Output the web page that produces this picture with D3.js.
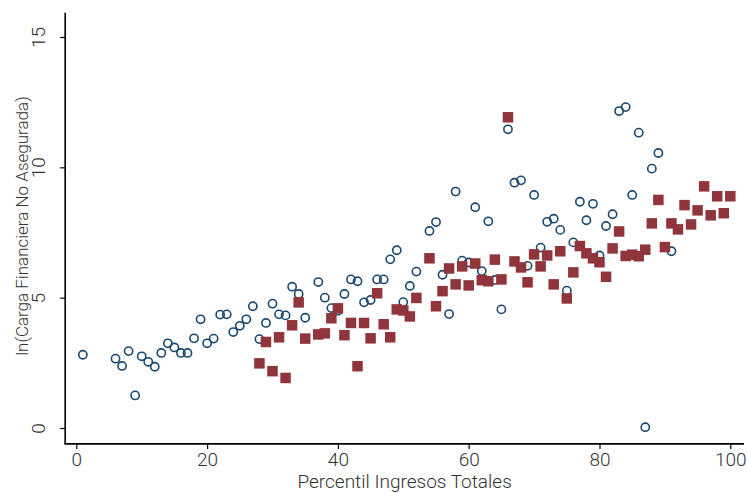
<!DOCTYPE html>
<html><head><meta charset="utf-8">
<script src="https://cdn.jsdelivr.net/npm/d3@7"></script>
<style>
body{margin:0;background:#fff;}
text{font-family:Roboto,"Open Sans",sans-serif;font-weight:300;fill:#333;}
</style></head>
<body><svg id="c" width="747" height="493"></svg>
<script>
const xTicks = [0,20,40,60,80,100];
const yTicks = [0,5,10,15];
const xTitle = "Percentil Ingresos Totales";
const yTitle = "ln(Carga Financiera No Asegurada)";

const circlePct = [1,6,7,8,9,10,11,12,13,14,15,16,17,18,19,20,21,22,23,24,25,26,27,28,29,30,31,32,33,34,35,37,38,39,40,41,42,43,44,45,46,47,48,49,50,51,52,54,55,56,57,58,59,60,61,62,63,64,65,66,67,68,69,70,71,72,73,74,75,76,77,78,79,80,81,82,83,84,85,86,87,88,89,91];
const circleVal = [2.81,2.66,2.38,2.95,1.25,2.75,2.54,2.35,2.88,3.25,3.09,2.88,2.88,3.44,4.17,3.25,3.43,4.35,4.36,3.68,3.92,4.17,4.67,3.41,4.03,4.77,4.36,4.32,5.42,5.14,4.23,5.60,5.00,4.60,4.50,5.14,5.70,5.63,4.82,4.91,5.70,5.70,6.47,6.82,4.83,5.45,6.00,7.56,7.90,5.88,4.37,9.07,6.42,6.35,8.47,6.02,7.93,5.68,4.55,11.46,9.41,9.50,6.22,8.94,6.92,7.91,8.03,7.60,5.27,7.12,8.68,7.97,8.60,6.62,7.75,8.20,12.16,12.31,8.94,11.33,0.03,9.95,10.55,6.78];

const squarePct = [28,29,30,31,32,33,34,35,37,38,39,40,41,42,43,44,45,46,47,48,49,50,51,52,54,55,56,57,58,59,60,61,62,63,64,65,66,67,68,69,70,71,72,73,74,75,76,77,78,79,80,81,82,83,84,85,86,87,88,89,90,91,92,93,94,95,96,97,98,99,100];
const squareVal = [2.48,3.30,2.18,3.48,1.92,3.94,4.82,3.43,3.59,3.63,4.21,4.59,3.56,4.03,2.37,4.03,3.44,5.17,3.98,3.48,4.55,4.51,4.28,4.99,6.51,4.67,5.25,6.12,5.51,6.20,5.47,6.31,5.67,5.63,6.46,5.70,11.92,6.39,6.16,5.59,6.66,6.20,6.62,5.51,6.78,4.97,5.97,6.98,6.70,6.51,6.36,5.80,6.89,7.54,6.60,6.65,6.59,6.84,7.85,8.75,6.94,7.85,7.62,8.55,7.81,8.35,9.27,8.16,8.89,8.24,8.89];

const svg = d3.select("#c");
const x = d3.scaleLinear().domain([0,100]).range([76.3,730.3]);
const y = d3.scaleLinear().domain([0,15]).range([428,37]);
const xMin=-1.7, xMax=102.1, yMin=-0.61, yMax=15.93;

svg.append("line").attr("x1",x(xMin)).attr("x2",x(xMin)).attr("y1",y(yMin)).attr("y2",y(yMax))
  .attr("stroke","#000").attr("stroke-width",1.6);
svg.append("line").attr("x1",x(xMin)-0.8).attr("x2",x(xMax)).attr("y1",y(yMin)).attr("y2",y(yMin))
  .attr("stroke","#000").attr("stroke-width",1.6);

const gx = svg.append("g").attr("transform",`translate(0,${y(yMin)})`)
  .call(d3.axisBottom(x).tickValues(xTicks).tickSize(5).tickPadding(4).tickFormat(d3.format("d")));
gx.select(".domain").remove();
gx.selectAll(".tick line").attr("stroke","#000").attr("stroke-width",1.2);
gx.selectAll(".tick text").style("font-size","19px").style("font-family","Roboto").style("font-weight","300").attr("fill","#333");

const gy = svg.append("g").attr("transform",`translate(${x(xMin)},0)`)
  .call(d3.axisLeft(y).tickValues(yTicks).tickSize(5).tickPadding(4).tickFormat(d3.format("d")));
gy.select(".domain").remove();
gy.selectAll(".tick line").attr("stroke","#000").attr("stroke-width",1.2);
gy.selectAll(".tick text").style("font-size","19px").style("font-family","Roboto").style("font-weight","300")
  .attr("fill","#333").attr("text-anchor","middle").attr("x",0).attr("dy",0)
  .attr("transform","translate(-20,0) rotate(-90)");

svg.append("text").attr("x",(x(xMin)+x(xMax))/2).attr("y",488).attr("text-anchor","middle")
  .style("font-size","19px").text(xTitle);
svg.append("text").attr("transform",`translate(28,226) rotate(-90)`).attr("text-anchor","middle")
  .style("font-size","17px").text(yTitle);

svg.append("g").selectAll("circle").data(circlePct.map((p,i)=>[p,circleVal[i]])).join("circle")
  .attr("cx",d=>x(d[0])).attr("cy",d=>y(d[1])).attr("r",4.1)
  .attr("fill","none").attr("stroke","#1a476f").attr("stroke-width",1.6);

const s = 10.5;
svg.append("g").selectAll("rect").data(squarePct.map((p,i)=>[p,squareVal[i]])).join("rect")
  .attr("x",d=>x(d[0])-s/2).attr("y",d=>y(d[1])-s/2).attr("width",s).attr("height",s)
  .attr("fill","#90353b");
</script></body></html>
